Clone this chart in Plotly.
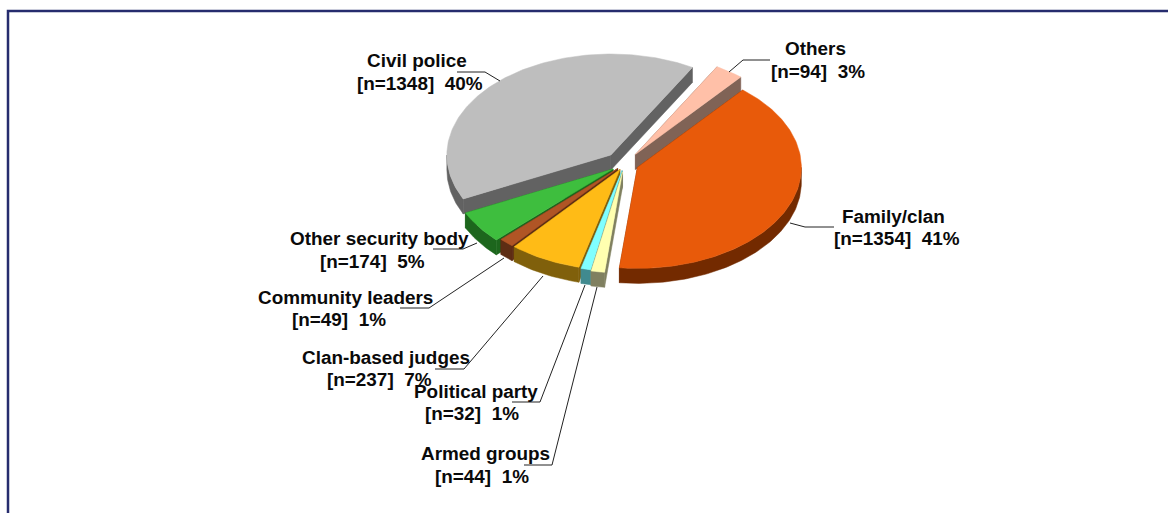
import math
import plotly.graph_objects as go

# Survey responses per provider, clockwise from the top right of the pie
categories = ["Family/clan", "Armed groups", "Political party", "Clan-based judges",
              "Community leaders", "Other security body", "Civil police", "Others"]
counts = [1354, 44, 32, 237, 49, 174, 1348, 94]

# Slice styling and pull-out distance, same order as categories
top_colors = ["#E85A0A", "#FFFFB0", "#80FFFF", "#FFBB16", "#B05525", "#3EBE3E", "#BEBEBE", "#FFC0A8"]
side_colors = ["#732A00", "#808060", "#408A8F", "#80600B", "#5E2D14", "#1D661D", "#626262", "#806356"]
explode = [14, 13, 11, 10, 10, 14, 20, 19]

# Back slices are painted first so the front ones overlap them
draw_order = ["Civil police", "Others", "Family/clan", "Other security body",
              "Community leaders", "Clan-based judges", "Political party", "Armed groups"]

# Pie geometry on a pixel-sized axis pair
CENTER_X, CENTER_Y = 624.5, 164
RX, RY, DEPTH = 164, 101, 15
START_DEG = 40

# Label centres: (x, first line y, x, second line y)
label_pos = {
    "Civil police": (417, 60, 420, 83),
    "Others": (815, 48, 818, 71),
    "Family/clan": (893, 216, 897, 238),
    "Other security body": (379, 238, 372, 261),
    "Community leaders": (345.5, 297, 338.5, 319),
    "Clan-based judges": (386, 357, 379, 379),
    "Political party": (476, 391, 472, 413),
    "Armed groups": (485, 453, 481.5, 476),
}

# Leader lines from label to slice
leaders = {
    "Civil police": ([457, 485, 500], [72, 72, 81]),
    "Others": ([770, 743, 729], [60, 60, 72]),
    "Family/clan": ([834, 805, 790], [227, 227, 223]),
    "Other security body": ([433, 463, 477], [249, 249, 243]),
    "Community leaders": ([400, 429, 504], [308, 308, 258]),
    "Clan-based judges": ([435, 464, 543], [369, 369, 276]),
    "Political party": ([512, 540, 585], [402, 402, 285]),
    "Armed groups": ([524, 552, 597], [465, 465, 287]),
}

FONT = dict(family="Liberation Sans", size=18.9, color="#0A0A0A")


def rim(cx, cy, a0, a1, dy=0.0):
    """Points along the ellipse rim, angles clockwise from the top in degrees."""
    n = max(2, int(abs(a1 - a0)) + 2)
    xs, ys = [], []
    for i in range(n):
        a = math.radians(a0 + (a1 - a0) * i / (n - 1))
        xs.append(cx + RX * math.sin(a))
        ys.append(cy - RY * math.cos(a) + dy)
    return xs, ys


def polygon(xs, ys, color):
    return go.Scatter(x=xs + xs[:1], y=ys + ys[:1], mode="lines", fill="toself",
                      fillcolor=color, line=dict(color=color, width=0.5),
                      hoverinfo="skip", showlegend=False)


total = sum(counts)
spans = {}
angle = START_DEG
for name, n in zip(categories, counts):
    sweep = 360 * n / total
    spans[name] = (angle, angle + sweep)
    angle += sweep

fig = go.Figure()

for name in draw_order:
    i = categories.index(name)
    a0, a1 = spans[name]
    mid = math.radians((a0 + a1) / 2)
    cx = CENTER_X + explode[i] * math.sin(mid)
    cy = CENTER_Y - explode[i] * math.cos(mid) * RY / RX

    # Cut faces on both radial edges
    for a in (a0, a1):
        ex, ey = rim(cx, cy, a, a)
        fig.add_trace(polygon([cx, ex[0], ex[0], cx],
                              [cy, ey[0], ey[0] + DEPTH, cy + DEPTH], side_colors[i]))

    # Outer wall, only where the rim faces the viewer
    for shift in (0, 360):
        lo, hi = max(a0, 90 + shift), min(a1, 270 + shift)
        if lo < hi:
            xs, ys = rim(cx, cy, lo, hi)
            xb, yb = rim(cx, cy, hi, lo, DEPTH)
            fig.add_trace(polygon(xs + xb, ys + yb, side_colors[i]))

    # Top face
    xs, ys = rim(cx, cy, a0, a1)
    fig.add_trace(polygon([cx] + xs, [cy] + ys, top_colors[i]))

for name in categories:
    lx, ly = leaders[name]
    fig.add_trace(go.Scatter(x=lx, y=ly, mode="lines", line=dict(color="#222222", width=1),
                             hoverinfo="skip", showlegend=False))

for name, n in zip(categories, counts):
    x1, y1, x2, y2 = label_pos[name]
    share = round(100 * n / total)
    fig.add_annotation(x=x1, y=y1, text=f"<b>{name}</b>", showarrow=False, font=FONT)
    fig.add_annotation(x=x2, y=y2, text=f"<b>[n={n}]  {share}%</b>", showarrow=False, font=FONT)

# Navy frame running off the right and bottom of the page
fig.add_shape(type="rect", x0=8, y0=11, x1=1200, y1=560, line=dict(color="#262C6E", width=2.5),
              fillcolor="rgba(0,0,0,0)", layer="above")

fig.update_xaxes(range=[0, 1168], visible=False, fixedrange=True)
fig.update_yaxes(range=[513, 0], visible=False, fixedrange=True)
fig.update_layout(width=1168, height=513, margin=dict(l=0, r=0, t=0, b=0, pad=0),
                  paper_bgcolor="white", plot_bgcolor="white", showlegend=False)

fig.write_html("out.html", config=dict(displayModeBar=False))
